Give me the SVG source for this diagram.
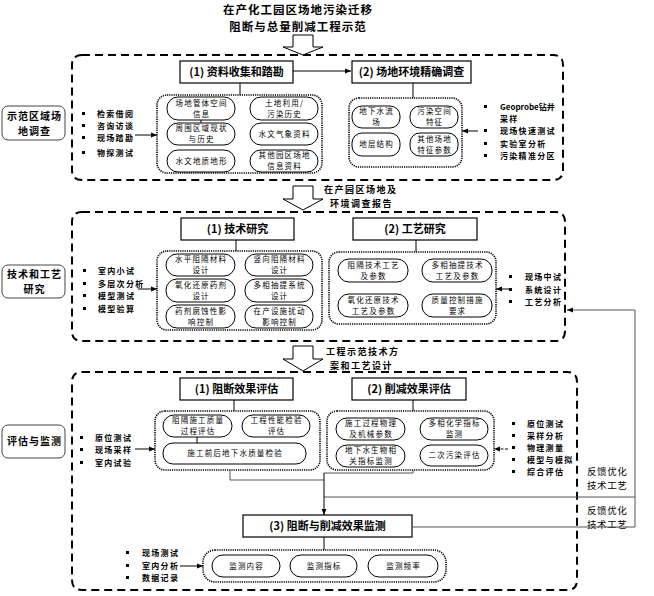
<svg xmlns="http://www.w3.org/2000/svg" width="654" height="596" viewBox="0 0 654 596">
<defs>
<marker id="ah" viewBox="0 0 10 10" refX="10" refY="5" markerWidth="6" markerHeight="6" orient="auto" markerUnits="userSpaceOnUse"><path d="M0,1 L10,5 L0,9 Z" fill="#000"/></marker>
<style>
text{font-family:"Noto Sans CJK SC","Liberation Sans",sans-serif;fill:#000}
.title{font-size:11.5px;font-weight:bold;letter-spacing:1px}
.sec{fill:none;stroke:#000;stroke-width:2;stroke-dasharray:8 5}
.lab{fill:#fff;stroke:#444;stroke-width:1}
.labt{font-size:10px;font-weight:bold;letter-spacing:1px}
.box{fill:#fff;stroke:#000;stroke-width:1.2}
.boxt{font-size:11px;font-weight:bold}
.grp{fill:#fff;stroke:#000;stroke-width:1.6;stroke-dasharray:1.2 1}
.ov{fill:#fff;stroke:#000;stroke-width:1}
.ovt{font-size:7.5px;letter-spacing:1.2px}
.bt{font-size:8px;font-weight:bold;letter-spacing:1.3px}
.arl{font-size:9px;font-weight:bold;letter-spacing:1.5px}
.fb{font-size:9.5px;letter-spacing:0.6px}
.ln{fill:none;stroke:#000;stroke-width:1}
.gl{fill:none;stroke:#555;stroke-width:1}
.hol{fill:#fff;stroke:#000;stroke-width:1}
</style>
</defs>
<rect width="654" height="596" fill="#fff"/>

<g id="title">
<text class="title" x="298" y="14" text-anchor="middle">在产化工园区场地污染迁移</text>
<text class="title" x="298" y="31" text-anchor="middle">阻断与总量削减工程示范</text>
</g>

<g id="section1">
<path class="sec" d="M82,55 H553 Q563,55 563,65 V170 Q563,180 553,180 H82 Q72,180 72,170 V65 Q72,55 82,55 Z"/>
</g>
<g id="section2">
<path class="sec" d="M82,212 H555 Q565,212 565,222 V331 Q565,341 555,341 H82 Q72,341 72,331 V222 Q72,212 82,212 Z"/>
</g>
<g id="section3">
<path class="sec" d="M82,372 H567 Q577,372 577,382 V580 Q577,590 567,590 H82 Q72,590 72,580 V382 Q72,372 82,372 Z"/>
</g>

<g id="harrow1"><path class="hol" d="M293,35 H313 V47 H323 L303,55 L283,47 H293 Z"/></g>
<g id="harrow2"><path class="hol" d="M293,186 H313 V199 H323 L303,210 L283,199 H293 Z"/></g>
<g id="harrow3"><path class="hol" d="M293,346 H313 V359 H323 L303,371 L283,359 H293 Z"/></g>

<g id="arrowlabel1">
<text class="arl" x="324" y="193">在产园区场地及</text>
<text class="arl" x="330" y="206.5">环境调查报告</text>
</g>
<g id="arrowlabel2">
<text class="arl" x="326" y="355">工程示范技术方</text>
<text class="arl" x="330" y="368.5">案和工艺设计</text>
</g>

<!-- section 1 -->
<g id="label1">
<rect class="lab" x="2" y="106" width="63" height="34" rx="6"/>
<text class="labt" x="34.5" y="120" text-anchor="middle">示范区域场</text>
<text class="labt" x="34.5" y="135" text-anchor="middle">地调查</text>
</g>
<g id="bullets1">
<rect x="82" y="112" width="3" height="3"/><text class="bt" x="97" y="117">检索借阅</text>
<rect x="82" y="124" width="3" height="3"/><text class="bt" x="97" y="129">咨询访谈</text>
<rect x="82" y="136" width="3" height="3"/><text class="bt" x="97" y="141">现场踏勘</text>
<rect x="82" y="151" width="3" height="3"/><text class="bt" x="97" y="156">物探测试</text>
</g>
<g id="box1-1">
<rect class="box" x="180" y="61" width="113" height="22"/>
<text class="boxt" x="236.5" y="76" text-anchor="middle">(1) 资料收集和踏勘</text>
</g>
<g id="box1-2">
<rect class="box" x="352" y="61" width="119" height="22"/>
<text class="boxt" x="411.5" y="76" text-anchor="middle">(2) 场地环境精确调查</text>
</g>
<g id="group1-1">
<rect class="grp" x="157" y="95" width="165" height="78" rx="10"/>
<rect class="ov" x="167" y="97" width="68" height="23" rx="11"/>
<text class="ovt" x="201.6" y="105.9" text-anchor="middle">场地管体空间</text>
<text class="ovt" x="201.6" y="116.9" text-anchor="middle">信息</text>
<rect class="ov" x="250" y="97" width="68" height="23" rx="11"/>
<text class="ovt" x="284.6" y="105.9" text-anchor="middle">土地利用/</text>
<text class="ovt" x="284.6" y="116.9" text-anchor="middle">污染历史</text>
<rect class="ov" x="167" y="123" width="68" height="22" rx="11"/>
<text class="ovt" x="201.6" y="131.4" text-anchor="middle">周围区域现状</text>
<text class="ovt" x="201.6" y="142.4" text-anchor="middle">与历史</text>
<rect class="ov" x="250" y="123" width="68" height="22" rx="11"/>
<text class="ovt" x="284.6" y="136.9" text-anchor="middle">水文气象资料</text>
<rect class="ov" x="167" y="150" width="68" height="22" rx="11"/>
<text class="ovt" x="201.6" y="163.9" text-anchor="middle">水文地质地形</text>
<rect class="ov" x="250" y="150" width="68" height="22" rx="11"/>
<text class="ovt" x="284.6" y="158.4" text-anchor="middle">其他园区场地</text>
<text class="ovt" x="284.6" y="169.4" text-anchor="middle">信息资料</text>
</g>
<g id="group1-2">
<rect class="grp" x="349" y="98" width="113" height="69" rx="10"/>
<rect class="ov" x="352" y="106" width="48" height="22" rx="10"/>
<text class="ovt" x="376.6" y="114.4" text-anchor="middle">地下水流</text>
<text class="ovt" x="376.6" y="125.4" text-anchor="middle">场</text>
<rect class="ov" x="410" y="106" width="48" height="22" rx="10"/>
<text class="ovt" x="434.6" y="114.4" text-anchor="middle">污染空间</text>
<text class="ovt" x="434.6" y="125.4" text-anchor="middle">特征</text>
<rect class="ov" x="352" y="133" width="48" height="23" rx="10"/>
<text class="ovt" x="376.6" y="147.4" text-anchor="middle">地层结构</text>
<rect class="ov" x="410" y="133" width="48" height="23" rx="10"/>
<text class="ovt" x="434.6" y="141.9" text-anchor="middle">其他场地</text>
<text class="ovt" x="434.6" y="152.9" text-anchor="middle">特征参数</text>
</g>
<g id="bullets1r">
<rect x="484" y="105" width="3" height="3"/><text class="bt" x="500" y="110" style="letter-spacing:0">Geoprobe钻井</text>
<text class="bt" x="500" y="122">采样</text>
<rect x="484" y="129" width="3" height="3"/><text class="bt" x="500" y="134">现场快速测试</text>
<rect x="484" y="142" width="3" height="3"/><text class="bt" x="500" y="147">实验室分析</text>
<rect x="484" y="154" width="3" height="3"/><text class="bt" x="500" y="159">污染精准分区</text>
</g>

<!-- section 2 -->
<g id="label2">
<rect class="lab" x="2" y="265" width="63" height="33" rx="6"/>
<text class="labt" x="34.5" y="278" text-anchor="middle">技术和工艺</text>
<text class="labt" x="34.5" y="293" text-anchor="middle">研究</text>
</g>
<g id="bullets2">
<rect x="83" y="269" width="3" height="3"/><text class="bt" x="98" y="274">室内小试</text>
<rect x="83" y="282" width="3" height="3"/><text class="bt" x="98" y="287">多层次分析</text>
<rect x="83" y="294" width="3" height="3"/><text class="bt" x="98" y="299">模型测试</text>
<rect x="83" y="307" width="3" height="3"/><text class="bt" x="98" y="312">模型验算</text>
</g>
<g id="box2-1">
<rect class="box" x="181" y="218" width="113" height="22"/>
<text class="boxt" x="237.5" y="233" text-anchor="middle">(1) 技术研究</text>
</g>
<g id="box2-2">
<rect class="box" x="353" y="218" width="124" height="22"/>
<text class="boxt" x="415" y="233" text-anchor="middle">(2) 工艺研究</text>
</g>
<g id="group2-1">
<rect class="grp" x="157" y="251" width="165" height="79" rx="10"/>
<rect class="ov" x="166" y="254" width="69" height="22" rx="11"/>
<text class="ovt" x="201.1" y="262.4" text-anchor="middle">水平阻隔材料</text>
<text class="ovt" x="201.1" y="273.4" text-anchor="middle">设计</text>
<rect class="ov" x="245" y="254" width="68" height="22" rx="11"/>
<text class="ovt" x="279.6" y="262.4" text-anchor="middle">竖向阻隔材料</text>
<text class="ovt" x="279.6" y="273.4" text-anchor="middle">设计</text>
<rect class="ov" x="166" y="279" width="69" height="23" rx="11"/>
<text class="ovt" x="201.1" y="287.9" text-anchor="middle">氧化还原药剂</text>
<text class="ovt" x="201.1" y="298.9" text-anchor="middle">设计</text>
<rect class="ov" x="245" y="279" width="68" height="23" rx="11"/>
<text class="ovt" x="279.6" y="287.9" text-anchor="middle">多相抽提系统</text>
<text class="ovt" x="279.6" y="298.9" text-anchor="middle">设计</text>
<rect class="ov" x="166" y="305" width="69" height="23" rx="11"/>
<text class="ovt" x="201.1" y="313.9" text-anchor="middle">药剂腐蚀性影</text>
<text class="ovt" x="201.1" y="324.9" text-anchor="middle">响控制</text>
<rect class="ov" x="245" y="305" width="68" height="23" rx="11"/>
<text class="ovt" x="279.6" y="313.9" text-anchor="middle">在产设施扰动</text>
<text class="ovt" x="279.6" y="324.9" text-anchor="middle">影响控制</text>
</g>
<g id="group2-2">
<rect class="grp" x="329" y="252" width="167" height="72" rx="10"/>
<rect class="ov" x="338" y="259" width="70" height="23" rx="11"/>
<text class="ovt" x="373.6" y="267.9" text-anchor="middle">阻隔技术工艺</text>
<text class="ovt" x="373.6" y="278.9" text-anchor="middle">及参数</text>
<rect class="ov" x="422" y="259" width="70" height="23" rx="11"/>
<text class="ovt" x="457.6" y="267.9" text-anchor="middle">多相抽提技术</text>
<text class="ovt" x="457.6" y="278.9" text-anchor="middle">工艺及参数</text>
<rect class="ov" x="338" y="294" width="70" height="23" rx="11"/>
<text class="ovt" x="373.6" y="302.9" text-anchor="middle">氧化还原技术</text>
<text class="ovt" x="373.6" y="313.9" text-anchor="middle">工艺及参数</text>
<rect class="ov" x="422" y="294" width="70" height="23" rx="11"/>
<text class="ovt" x="457.6" y="302.9" text-anchor="middle">质量控制措施</text>
<text class="ovt" x="457.6" y="313.9" text-anchor="middle">要求</text>
</g>
<g id="bullets2r">
<rect x="509" y="275" width="3" height="3"/><text class="bt" x="525" y="280">现场中试</text>
<rect x="509" y="288" width="3" height="3"/><text class="bt" x="525" y="293">系统设计</text>
<rect x="509" y="300" width="3" height="3"/><text class="bt" x="525" y="305">工艺分析</text>
</g>

<!-- section 3 -->
<g id="label3">
<rect class="lab" x="2" y="425" width="63" height="33" rx="6"/>
<text class="labt" x="34.5" y="445" text-anchor="middle">评估与监测</text>
</g>
<g id="bullets3">
<rect x="80" y="436" width="3" height="3"/><text class="bt" x="95" y="441">原位测试</text>
<rect x="80" y="448" width="3" height="3"/><text class="bt" x="95" y="453">现场采样</text>
<rect x="80" y="461" width="3" height="3"/><text class="bt" x="95" y="466">室内试验</text>
</g>
<g id="box3-1">
<rect class="box" x="180" y="378" width="113" height="22"/>
<text class="boxt" x="236.5" y="393" text-anchor="middle">(1) 阻断效果评估</text>
</g>
<g id="box3-2">
<rect class="box" x="352" y="378" width="114" height="22"/>
<text class="boxt" x="409" y="393" text-anchor="middle">(2) 削减效果评估</text>
</g>
<g id="group3-1">
<rect class="grp" x="155" y="411" width="165" height="59" rx="10"/>
<rect class="ov" x="163" y="415" width="69" height="22" rx="11"/>
<text class="ovt" x="198.1" y="423.4" text-anchor="middle">阻隔施工质量</text>
<text class="ovt" x="198.1" y="434.4" text-anchor="middle">过程评估</text>
<rect class="ov" x="242" y="415" width="68" height="22" rx="11"/>
<text class="ovt" x="276.6" y="423.4" text-anchor="middle">工程性能检验</text>
<text class="ovt" x="276.6" y="434.4" text-anchor="middle">评估</text>
<rect class="ov" x="163" y="443" width="143" height="21" rx="10"/>
<text class="ovt" x="235.1" y="456.4" text-anchor="middle">施工前后地下水质量检验</text>
</g>
<g id="group3-2">
<rect class="grp" x="327" y="411" width="167" height="59" rx="10"/>
<rect class="ov" x="336" y="418" width="69" height="22" rx="11"/>
<text class="ovt" x="371.1" y="426.4" text-anchor="middle">施工过程物理</text>
<text class="ovt" x="371.1" y="437.4" text-anchor="middle">及机械参数</text>
<rect class="ov" x="420" y="418" width="68" height="22" rx="11"/>
<text class="ovt" x="454.6" y="426.4" text-anchor="middle">多相化学指标</text>
<text class="ovt" x="454.6" y="437.4" text-anchor="middle">监测</text>
<rect class="ov" x="336" y="445" width="69" height="22" rx="11"/>
<text class="ovt" x="371.1" y="453.4" text-anchor="middle">地下水生物相</text>
<text class="ovt" x="371.1" y="464.4" text-anchor="middle">关指标监测</text>
<rect class="ov" x="420" y="445" width="68" height="21" rx="11"/>
<text class="ovt" x="454.6" y="458.4" text-anchor="middle">二次污染评估</text>
</g>
<g id="bullets3r">
<rect x="512" y="422" width="3" height="3"/><text class="bt" x="527" y="427">原位测试</text>
<rect x="512" y="434" width="3" height="3"/><text class="bt" x="527" y="439">采样分析</text>
<rect x="512" y="446" width="3" height="3"/><text class="bt" x="527" y="451">物理测量</text>
<rect x="512" y="458" width="3" height="3"/><text class="bt" x="527" y="463">模型与模拟</text>
<rect x="512" y="470" width="3" height="3"/><text class="bt" x="527" y="475">综合评估</text>
</g>
<g id="box3-3">
<rect class="box" x="243" y="515" width="169" height="22"/>
<text class="boxt" x="327.5" y="530" text-anchor="middle">(3) 阻断与削减效果监测</text>
</g>
<g id="group3-3">
<rect class="grp" x="203" y="550" width="243" height="32" rx="12"/>
<rect class="ov" x="212" y="555" width="68" height="22" rx="11"/>
<text class="ovt" x="246.6" y="568.9" text-anchor="middle">监测内容</text>
<rect class="ov" x="290" y="555" width="67" height="22" rx="11"/>
<text class="ovt" x="324.1" y="568.9" text-anchor="middle">监测指标</text>
<rect class="ov" x="368" y="555" width="70" height="22" rx="11"/>
<text class="ovt" x="403.6" y="568.9" text-anchor="middle">监测频率</text>
</g>
<g id="bullets3b">
<rect x="126" y="551" width="3" height="3"/><text class="bt" x="142" y="556">现场测试</text>
<rect x="126" y="564" width="3" height="3"/><text class="bt" x="142" y="569">室内分析</text>
<rect x="126" y="576" width="3" height="3"/><text class="bt" x="142" y="581">数据记录</text>
</g>
<g id="feedback-labels">
<text class="fb" x="587" y="475">反馈优化</text>
<text class="fb" x="587" y="489">技术工艺</text>
<text class="fb" x="587" y="514">反馈优化</text>
<text class="fb" x="587" y="528">技术工艺</text>
</g>

<g id="connectors">
<line class="ln" x1="293" y1="71" x2="351" y2="71" marker-end="url(#ah)"/>
<line class="ln" x1="240" y1="83" x2="240" y2="95"/>
<line class="ln" x1="413" y1="83" x2="413" y2="98"/>
<line class="ln" x1="201" y1="120" x2="201" y2="123"/>
<line class="ln" x1="135" y1="135" x2="157" y2="135" marker-end="url(#ah)"/>
<line class="ln" x1="478" y1="131" x2="462" y2="131" marker-end="url(#ah)"/>

<line class="ln" x1="236" y1="240" x2="236" y2="251"/>
<line class="ln" x1="416" y1="240" x2="416" y2="252"/>
<line class="ln" x1="138" y1="289" x2="157" y2="289" marker-end="url(#ah)"/>
<line class="ln" x1="510" y1="289" x2="496" y2="289" marker-end="url(#ah)"/>

<polyline class="gl" points="635,527 635,310 567,310" marker-end="url(#ah)"/>
<line class="gl" x1="324" y1="497" x2="635" y2="497"/>
<line class="gl" x1="412" y1="527" x2="635" y2="527"/>

<line class="ln" x1="234" y1="400" x2="234" y2="411"/>
<line class="ln" x1="413" y1="400" x2="413" y2="411"/>
<line class="ln" x1="197" y1="437" x2="197" y2="443"/>
<line class="ln" x1="135" y1="449" x2="155" y2="449" marker-end="url(#ah)"/>
<line class="ln" x1="508" y1="449" x2="494" y2="449" stroke-dasharray="3 1.5" marker-end="url(#ah)"/>
<polyline class="gl" points="230,470 230,480 324,480"/>
<polyline class="gl" points="413,470 413,473 324,473"/>
<line class="ln" x1="324" y1="473" x2="324" y2="515" marker-end="url(#ah)"/>
<line class="ln" x1="324" y1="537" x2="324" y2="550"/>
<line class="ln" x1="180" y1="566" x2="203" y2="566" marker-end="url(#ah)"/>
</g>
</svg>
